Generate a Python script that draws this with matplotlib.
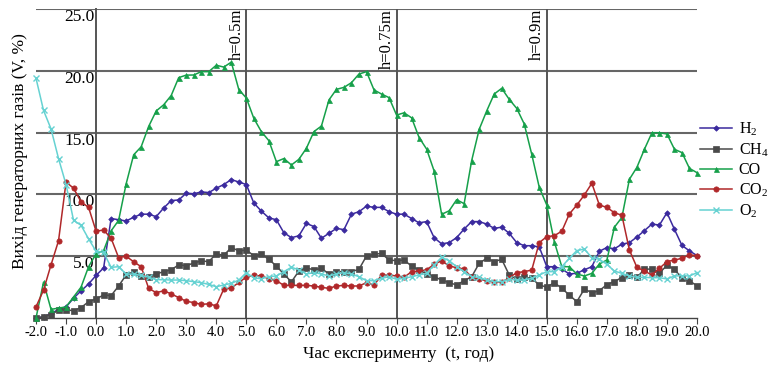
import numpy as np
import matplotlib
matplotlib.use('Agg')
import matplotlib.pyplot as plt

plt.rcParams['font.family'] = ['Liberation Serif', 'DejaVu Serif']
plt.rcParams['mathtext.fontset'] = 'custom'
plt.rcParams['mathtext.rm'] = 'Liberation Serif'
plt.rcParams['mathtext.it'] = 'Liberation Serif:italic'

# час, год (крок 0.25)
t = np.linspace(-2, 20, 89)

h2 = [0, 0.1, 0.35, 0.7, 0.9, 1.6, 2.2, 2.75,
      3.45, 4.05, 8.05, 7.95, 7.85, 8.15, 8.4, 8.4,
      8.2, 8.9, 9.5, 9.55, 10.1, 10.05, 10.2, 10.15,
      10.5, 10.8, 11.2, 11.0, 10.8, 9.3, 8.65, 8.1,
      7.95, 6.9, 6.5, 6.65, 7.65, 7.4, 6.45, 6.85,
      7.25, 7.15, 8.4, 8.6, 9.05, 8.95, 8.95, 8.6,
      8.4, 8.4, 8.05, 7.7, 7.8, 6.5, 6.0, 6.1,
      6.5, 7.2, 7.8, 7.8, 7.6, 7.25, 7.35, 6.85,
      6.1, 5.85, 5.85, 5.75, 4.15, 4.15, 3.97, 3.56,
      3.62, 3.9, 4.15, 5.4, 5.7, 5.6, 5.97, 6.1,
      6.55, 7.07, 7.6, 7.52, 8.52, 7.17, 5.87, 5.43,
      5.05]

ch4 = [0, 0.1, 0.25, 0.65, 0.65, 0.6, 0.84, 1.32,
       1.54, 1.86, 1.81, 2.59, 3.48, 3.75, 3.4, 3.34,
       3.56, 3.75, 3.9, 4.3, 4.23, 4.45, 4.62, 4.56,
       5.2, 5.07, 5.7, 5.43, 5.5, 5.04, 5.15, 4.75,
       4.2, 3.56, 2.92, 3.8, 4.07, 3.88, 4.02, 3.56,
       3.75, 3.75, 3.75, 3.94, 5.02, 5.15, 5.23, 4.69,
       4.64, 4.69, 4.2, 3.88, 3.58, 3.34, 3.07, 2.86,
       2.67, 3.02, 3.34, 4.42, 4.83, 4.56, 4.75, 3.48,
       3.13, 3.29, 3.21, 2.67, 2.5, 2.86, 2.4, 1.86,
       1.32, 2.34, 2.05, 2.21, 2.7, 2.95, 3.27, 3.48,
       3.28, 3.95, 3.96, 3.64, 4.26, 3.95, 3.2, 3.02,
       2.59]

co = [0, 2.9, 0.7, 0.8, 0.9, 1.7, 2.5, 4.15,
      5.2, 5.45, 7.05, 7.9, 10.85, 13.2, 13.85, 15.5,
      16.75, 17.25, 18.0, 19.45, 19.65, 19.66, 19.93, 19.93,
      20.45, 20.3, 20.7, 18.48, 17.8, 16.15, 15.08, 14.35,
      12.65, 12.9, 12.38, 12.84, 13.73, 15.08, 15.53, 17.64,
      18.5, 18.66, 19.04, 19.74, 19.93, 18.45, 18.12, 17.83,
      16.42, 16.6, 16.2, 14.6, 13.67, 11.9, 8.39, 8.67,
      9.57, 9.25, 12.73, 15.26, 16.75, 18.12, 18.58, 17.69,
      16.96, 15.7, 13.24, 10.57, 9.14, 6.18, 4.15, 4.15,
      3.56, 3.4, 3.61, 4.37, 4.69, 7.34, 8.14, 11.22,
      12.19, 13.65, 14.99, 14.99, 14.89, 13.65, 13.38, 12.1,
      11.76]

co2 = [0.9, 2.25, 4.3, 6.25, 11.0, 10.5, 9.4, 8.95,
       7.02, 7.12, 6.45, 4.88, 5.0, 4.55, 4.15, 2.4,
       2.05, 2.2, 1.95, 1.65, 1.35, 1.25, 1.1, 1.15,
       0.98, 2.35, 2.42, 2.88, 3.3, 3.45, 3.4, 3.18,
       3.02, 2.64, 2.64, 2.64, 2.64, 2.59, 2.48, 2.4,
       2.59, 2.64, 2.59, 2.59, 2.86, 2.67, 3.45, 3.48,
       3.4, 3.29, 3.75, 3.8, 3.9, 4.34, 4.64, 4.21,
       4.07, 3.96, 3.29, 3.13, 3.02, 2.94, 2.89, 3.26,
       3.67, 3.75, 3.88, 6.1, 6.58, 6.66, 7.02, 8.41,
       9.14, 9.95, 10.9, 9.14, 8.95, 8.52, 8.31, 5.5,
       4.1, 3.8, 3.48, 4.02, 4.56, 4.69, 4.83, 5.1,
       5.04]

o2 = [19.4, 16.8, 15.3, 12.9, 10.8, 7.9, 7.5, 6.4,
      5.4, 5.3, 4.1, 4.15, 3.55, 3.55, 3.45, 3.3,
      3.1, 3.1, 3.07, 3.07, 3.02, 2.94, 2.86, 2.72,
      2.53, 2.67, 2.8, 3.07, 3.67, 3.24, 3.18, 3.34,
      3.4, 3.75, 4.1, 3.9, 3.56, 3.67, 3.56, 3.4,
      3.56, 3.67, 3.56, 3.34, 3.02, 3.02, 3.21, 3.34,
      3.13, 3.21, 3.34, 3.48, 3.61, 4.29, 4.91, 4.64,
      4.15, 3.75, 3.34, 3.29, 3.07, 2.94, 2.94, 3.13,
      3.07, 3.07, 3.21, 3.48, 3.75, 3.75, 4.15, 4.83,
      5.45, 5.58, 4.88, 4.75, 4.34, 3.8, 3.61, 3.4,
      3.29, 3.29, 3.26, 3.26, 3.16, 3.4, 3.42, 3.4,
      3.67]

# вертикальні позначки висоти
h_pos = [5, 10, 15]
h_labels = ['h=0.5m', 'h=0.75m', 'h=0.9m']

y_ticks = [5, 10, 15, 20, 25]

series = [
    (r'H$_2$', h2, '#3B2A9E', 'D', 2.8),
    (r'CH$_4$', ch4, '#4A4A4A', 's', 4.2),
    ('CO', co, '#16A04A', '^', 3.6),
    (r'CO$_2$', co2, '#B0282A', 'o', 3.8),
    (r'O$_2$', o2, '#66D2D2', 'x', 4.5),
]

fig = plt.figure(figsize=(7.77, 3.67), dpi=100)
ax = fig.add_axes([36 / 777, 1 - 318 / 367, 661 / 777, 309 / 367])

# спершу спайни (set_position скидає тики)
ax.spines['left'].set_position(('data', 0))
ax.spines['left'].set_color('#555555')
ax.spines['left'].set_linewidth(1.4)
ax.spines['right'].set_visible(False)
ax.spines['top'].set_visible(False)
ax.spines['bottom'].set_color('#444444')
ax.spines['bottom'].set_linewidth(1.0)

for lab, vals, col, mk, ms in series:
    ax.plot(t, vals, color=col, marker=mk, markersize=ms, linewidth=1.1,
            markeredgewidth=1.0 if mk == 'x' else 0.5, label=lab, clip_on=False, zorder=3)

for xp, txt in zip(h_pos, h_labels):
    ax.axvline(xp, color='#555555', linewidth=1.4, zorder=1)
    ax.text(xp - 0.05, 25, txt, rotation=90, ha='right', va='top', fontsize=12)

ax.set_xlim(-2, 20)
ax.set_ylim(0, 25)
ax.set_xticks(np.arange(-2, 21, 1))
ax.set_xticklabels(['%.1f' % v for v in np.arange(-2, 21, 1)], fontsize=10.5)
ax.set_yticks(y_ticks)
ax.set_yticklabels(['%.1f' % v for v in y_ticks], fontsize=12.5, va='top')
ax.tick_params(axis='y', length=0, pad=1)
ax.tick_params(axis='x', length=4, width=0.8, color='#444444', pad=2)
ax.yaxis.grid(True, color='#666666', linewidth=1.5, zorder=1)
ax.set_axisbelow(True)

ax.set_ylabel('Вихід генераторних газів (V, %)', fontsize=12.5)
ax.yaxis.set_label_coords(-0.012, 0.54)
ax.set_xlabel('Час експерименту  (t, год)', fontsize=12.5)
ax.xaxis.set_label_coords(0.548, -0.09)

ax.legend(loc='upper left', bbox_to_anchor=(1.0, 0.65), frameon=False,
          fontsize=11.5, handlelength=2.0, labelspacing=0.22, borderaxespad=0,
          borderpad=0.2, handletextpad=0.4)

fig.savefig('out.png', dpi=100)
